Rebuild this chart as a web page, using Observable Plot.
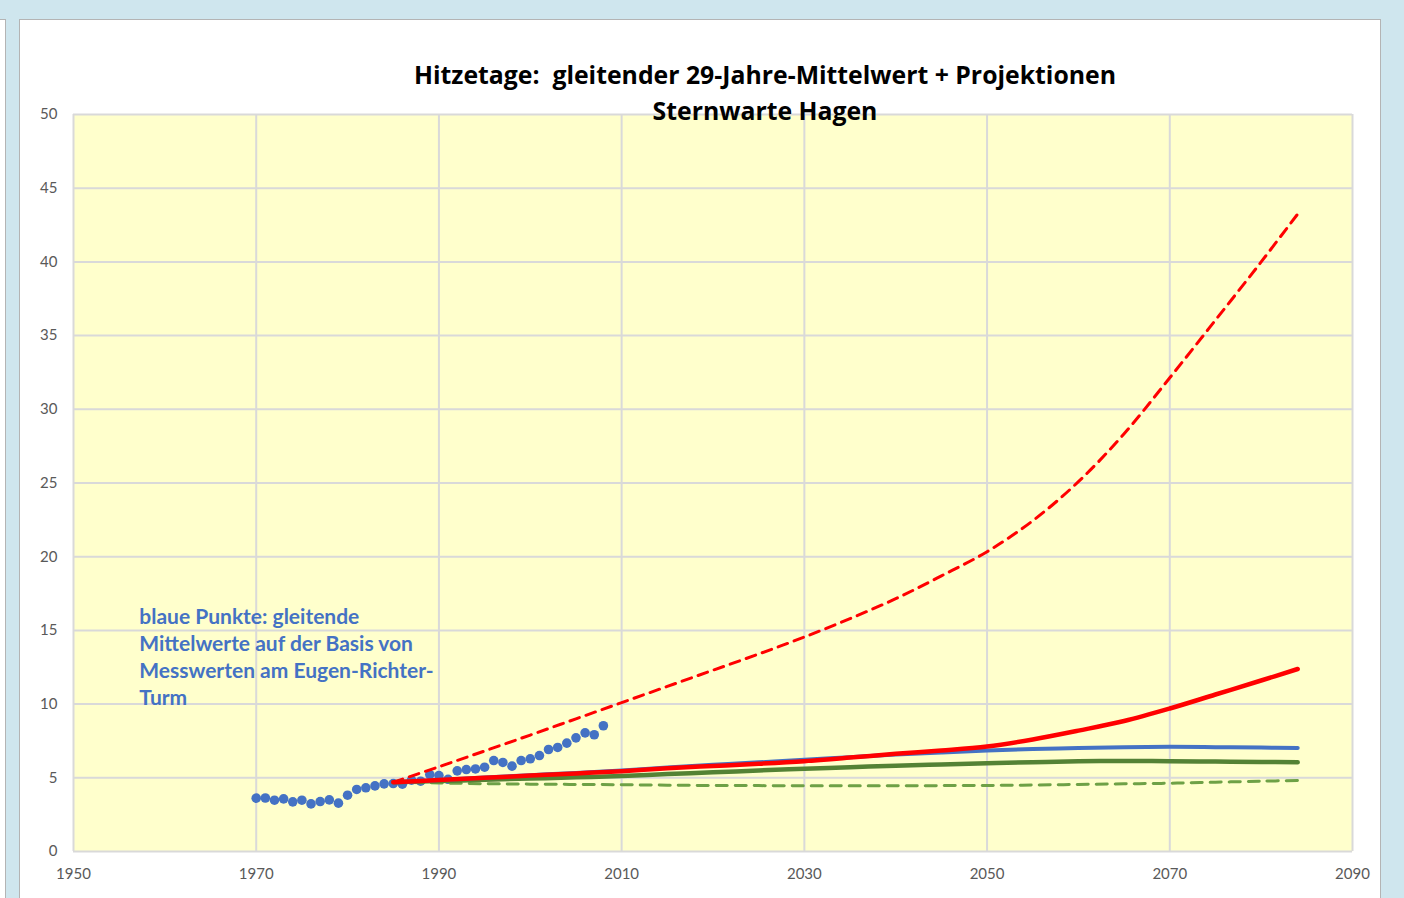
<!DOCTYPE html>
<html><head><meta charset="utf-8">
<script src="https://cdn.jsdelivr.net/npm/d3@7"></script>
<script src="https://cdn.jsdelivr.net/npm/@observablehq/plot@0.6"></script>
<style>
html,body{margin:0;padding:0}
body{background:#cfe6ee;width:1404px;height:898px;overflow:hidden;position:relative;font-family:Lato,sans-serif}
#left{position:absolute;left:-10px;top:19px;width:14px;height:900px;background:#fff;border:1px solid #b4b4b4}
#panel{position:absolute;left:19px;top:19px;width:1360px;height:900px;background:#fff;border:1px solid #b4b4b4}
#chart{position:absolute;left:0;top:0}
#title{position:absolute;left:265px;width:1000px;top:56px;text-align:center;font-weight:bold;font-size:24.8px;line-height:36px;color:#000;white-space:pre;font-family:"Open Sans",sans-serif}
</style>
</head><body>
<div id="left"></div>
<div id="panel"></div>
<div id="chart"></div>
<div id="title"></div>
<script>
const titleLines = ["Hitzetage:  gleitender 29-Jahre-Mittelwert + Projektionen", "Sternwarte Hagen"];
const annotationText = "blaue Punkte: gleitende\nMittelwerte auf der Basis von\nMesswerten am Eugen-Richter-\nTurm";

const xTickLabels = [1950, 1970, 1990, 2010, 2030, 2050, 2070, 2090];
const yTickLabels = [0, 5, 10, 15, 20, 25, 30, 35, 40, 45, 50];

// blue dots: gliding 29-year means (measurements)
const dotYears = [1970,1971,1972,1973,1974,1975,1976,1977,1978,1979,1980,1981,1982,1983,1984,1985,1986,1987,1988,1989,1990,1991,1992,1993,1994,1995,1996,1997,1998,1999,2000,2001,2002,2003,2004,2005,2006,2007,2008];
const dotValues = [3.62,3.63,3.48,3.57,3.37,3.48,3.23,3.39,3.5,3.28,3.82,4.21,4.32,4.45,4.59,4.61,4.57,4.84,4.77,5.22,5.15,4.9,5.47,5.56,5.6,5.72,6.17,6.04,5.79,6.17,6.29,6.51,6.92,7.06,7.35,7.71,8.05,7.92,8.53];

// projections
const projYears   = [1985,1990,1995,2000,2005,2010,2015,2020,2025,2030,2035,2040,2045,2050,2055,2060,2065,2070,2075,2080,2084];
const redSolid    = [4.7,4.85,5.0,5.15,5.3,5.45,5.65,5.8,5.95,6.13,6.37,6.63,6.85,7.12,7.6,8.2,8.85,9.7,10.65,11.6,12.38];
const blueSolid   = [4.7,4.85,5.02,5.18,5.33,5.5,5.7,5.88,6.05,6.22,6.4,6.58,6.72,6.85,6.95,7.02,7.08,7.1,7.08,7.05,7.03];
const greenSolid  = [4.7,4.78,4.87,4.95,5.03,5.12,5.25,5.37,5.5,5.61,5.72,5.82,5.91,5.99,6.06,6.12,6.14,6.13,6.1,6.07,6.06];
const greenDashed = [4.7,4.65,4.6,4.57,4.55,4.53,4.5,4.48,4.47,4.46,4.46,4.46,4.47,4.48,4.51,4.55,4.59,4.63,4.7,4.77,4.82];
const redDashed   = [4.7,5.75,6.82,7.9,9.0,10.1,11.2,12.3,13.4,14.55,15.8,17.15,18.7,20.34,22.44,25.09,28.34,32.14,36.05,40.0,43.25];

document.getElementById("title").textContent = titleLines.join("\n");

const dots = dotYears.map((y, i) => ({year: y, value: dotValues[i]}));
const series = (vals) => projYears.map((y, i) => ({year: y, value: vals[i]}));

const grid = {stroke: "#d9d9d9", strokeOpacity: 1, strokeWidth: 2};

const chart = Plot.plot({
  width: 1404, height: 898,
  marginLeft: 73, marginRight: 52, marginTop: 114, marginBottom: 47,
  style: {background: "transparent", fontFamily: "Lato, sans-serif", fontSize: "15px", color: "#595959", overflow: "visible"},
  x: {domain: [1950, 2090]},
  y: {domain: [0, 50]},
  marks: [
    Plot.frame({fill: "#ffffcc", stroke: null}),
    Plot.gridX(xTickLabels, grid),
    Plot.gridY(yTickLabels, grid),
    Plot.axisX(xTickLabels, {tickSize: 0, tickPadding: 17, label: null, tickFormat: d => String(d)}),
    Plot.axisY(yTickLabels, {tickSize: 0, tickPadding: 16, label: null, tickFormat: d => String(d)}),
    Plot.text([annotationText], {x: [1957.2], y: [13.27], text: d => d, textAnchor: "start", lineAnchor: "middle", lineHeight: 1.29, fontSize: 21, fontWeight: "bold", fill: "#4472c4"}),
    Plot.dot(dots, {x: "year", y: "value", r: 4.8, fill: "#4472c4", stroke: "none"}),
    Plot.line(series(greenDashed), {x: "year", y: "value", stroke: "#6ea146", strokeWidth: 3, strokeDasharray: "11,8", curve: "catmull-rom"}),
    Plot.line(series(redDashed), {x: "year", y: "value", stroke: "#ff0000", strokeWidth: 3, strokeDasharray: "10,7", curve: "catmull-rom"}),
    Plot.line(series(greenSolid), {x: "year", y: "value", stroke: "#548235", strokeWidth: 4.5, curve: "catmull-rom"}),
    Plot.line(series(blueSolid), {x: "year", y: "value", stroke: "#4472c4", strokeWidth: 4, curve: "catmull-rom"}),
    Plot.line(series(redSolid), {x: "year", y: "value", stroke: "#ff0000", strokeWidth: 4.5, curve: "catmull-rom"})
  ]
});
document.getElementById("chart").appendChild(chart);
</script>
</body></html>
